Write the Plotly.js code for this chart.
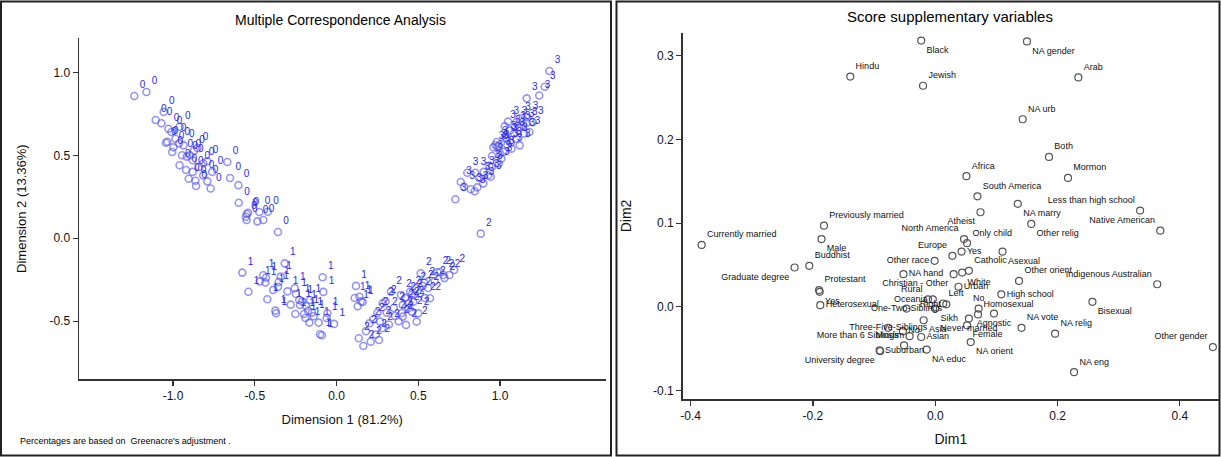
<!DOCTYPE html>
<html><head><meta charset="utf-8">
<script src="https://cdn.plot.ly/plotly-3.0.1.min.js"></script>
<style>html,body{margin:0;padding:0;background:#fff}#chart{width:1221px;height:457px}</style>
</head><body><div id="chart"></div>
<script>
// ---- Left panel: MCA object scores, grouped by category 0..3 ----
const g0x=[-1.237,-1.163,-1.057,-1.106,-1.071,-1.028,-0.959,-1.035,-1.043,-0.998,-0.963,-0.945,-0.916,-0.872,-0.851,-0.896,-0.790,-0.815,-0.920,-0.904,-0.863,-0.859,-0.815,-0.790,-0.668,-0.651,-0.598,-0.549,-0.541,-0.472,-0.448,-0.484,-0.554,-0.358,-1.010,-0.985,-0.935,-1.005,-0.880,-0.840,-0.960,-0.880,-0.770,-0.550,-0.420,-0.600,-0.760];
const g0y=[0.857,0.881,0.761,0.713,0.693,0.660,0.672,0.582,0.576,0.548,0.572,0.500,0.492,0.528,0.544,0.500,0.464,0.452,0.411,0.359,0.347,0.315,0.379,0.343,0.460,0.363,0.214,0.146,0.154,0.158,0.110,0.102,0.130,0.038,0.640,0.600,0.560,0.520,0.470,0.430,0.440,0.400,0.300,0.110,0.160,0.320,0.400];
const g1x=[-0.576,-0.539,-0.448,-0.431,-0.435,-0.423,-0.387,-0.354,-0.341,-0.358,-0.317,-0.374,-0.370,-0.256,-0.248,-0.228,-0.223,-0.252,-0.187,-0.199,-0.162,-0.174,-0.150,-0.166,-0.109,-0.101,-0.089,-0.085,-0.081,-0.056,-0.015,0.119,0.111,0.140,0.160,0.150,-0.470,-0.300,-0.210,-0.140,-0.280,-0.190,-0.060,0.130];
const g1y=[-0.207,-0.322,-0.223,-0.237,-0.267,-0.367,-0.311,-0.263,-0.231,-0.292,-0.151,-0.436,-0.452,-0.301,-0.336,-0.372,-0.402,-0.456,-0.408,-0.456,-0.372,-0.436,-0.448,-0.508,-0.508,-0.578,-0.584,-0.235,-0.323,-0.452,-0.516,-0.287,-0.360,-0.352,-0.384,-0.380,-0.260,-0.320,-0.380,-0.470,-0.400,-0.480,-0.480,-0.410];
const g2x=[0.136,0.164,0.209,0.260,0.201,0.225,0.266,0.278,0.282,0.307,0.333,0.358,0.394,0.405,0.405,0.425,0.450,0.439,0.460,0.470,0.490,0.500,0.511,0.515,0.527,0.535,0.572,0.617,0.633,0.654,0.690,0.719,0.882,0.300,0.350,0.420,0.440,0.480,0.560,0.380,0.320,0.250,0.180,0.240,0.460,0.600,0.660,0.540,0.400];
const g2y=[-0.602,-0.649,-0.623,-0.613,-0.512,-0.488,-0.502,-0.542,-0.392,-0.448,-0.322,-0.468,-0.342,-0.402,-0.472,-0.522,-0.322,-0.392,-0.442,-0.382,-0.502,-0.452,-0.331,-0.211,-0.287,-0.267,-0.361,-0.205,-0.203,-0.221,-0.221,-0.191,0.028,-0.380,-0.420,-0.360,-0.420,-0.300,-0.300,-0.500,-0.520,-0.450,-0.560,-0.580,-0.340,-0.260,-0.240,-0.360,-0.450];
const g3x=[1.302,1.273,1.163,0.727,0.760,0.821,0.845,0.861,0.800,0.849,0.873,0.898,0.935,0.929,0.943,0.951,0.959,0.972,0.984,0.992,1.008,1.000,1.029,1.049,1.066,1.070,1.086,1.090,1.122,1.143,1.163,1.147,1.167,1.118,1.033,1.045,0.992,0.780,0.900,0.950,1.020,1.040,1.100,1.120,1.180,1.200,1.100,0.980,1.060,1.240];
const g3y=[1.008,0.913,0.843,0.235,0.339,0.295,0.283,0.307,0.395,0.395,0.363,0.331,0.436,0.380,0.371,0.496,0.548,0.562,0.552,0.452,0.480,0.512,0.676,0.703,0.576,0.540,0.632,0.669,0.723,0.682,0.696,0.632,0.729,0.669,0.608,0.564,0.556,0.310,0.400,0.430,0.520,0.600,0.600,0.560,0.640,0.700,0.700,0.580,0.650,0.860];
const groupNames=["0","1","2","3"];

// ---- Right panel: supplementary variable scores ----
const supLabels=["Black","NA gender","Hindu","Jewish","Arab","NA urb","Both","Africa","Mormon","South America","Less than high school","NA marry","Atheist","Native American","Previously married","Other relig","North America","Only child","Currently married","Male","Yes","Europe","Asexual","Other race","Buddhist","Graduate degree","Catholic","NA hand","Christian - Other","White","Other orient","Indigenous Australian","Urban","Protestant","Yes","Heterosexual","High school","Rural","Oceania","Right","Left","Sikh","One-Two-Siblings","No","Homosexual","Agnostic","Never married","Female","NA vote","NA relig","Bisexual","Asia","Three-Five-Siblings","No","Muslim","Asian","More than 6 Siblings","NA orient","Other gender","Suburban","University degree","NA educ","NA eng"];
const supDim1=[-0.023,0.150,-0.139,-0.020,0.234,0.143,0.186,0.051,0.217,0.069,0.335,0.135,0.074,0.368,-0.182,0.157,0.047,0.052,-0.382,-0.186,0.043,0.028,0.110,-0.001,-0.206,-0.230,0.055,-0.052,0.030,0.044,0.137,0.363,0.038,-0.190,-0.189,-0.188,0.108,-0.012,-0.004,0.018,0.013,0.000,-0.047,0.071,0.070,0.096,0.055,0.052,0.141,0.196,0.257,-0.019,-0.077,-0.053,-0.042,-0.023,-0.051,0.058,0.454,-0.091,-0.090,-0.014,0.227];
const supDim2=[0.318,0.317,0.275,0.264,0.274,0.224,0.179,0.156,0.154,0.132,0.115,0.123,0.113,0.091,0.097,0.099,0.081,0.076,0.074,0.081,0.066,0.061,0.066,0.055,0.049,0.047,0.043,0.039,0.039,0.041,0.031,0.027,0.024,0.020,0.018,0.002,0.015,0.009,0.009,0.003,0.004,-0.002,-0.002,-0.002,-0.009,-0.008,-0.014,-0.022,-0.025,-0.032,0.006,-0.016,-0.025,-0.029,-0.035,-0.036,-0.046,-0.042,-0.048,-0.052,-0.053,-0.051,-0.078];
// label placement relative to each point (style, not data)
const supPlace=["bottom right","bottom right","top right","top right","top right","top right","top right","top right","top right","top right","top left","bottom right","bottom left","top left","top right","bottom right","top left","top right","top right","bottom right","middle right","top left","bottom right","middle left","top right","bottom left","top right","middle right","bottom left","bottom right","top right","top left","middle right","top right","bottom right","middle right","middle right","top left","middle left","middle left","top right","bottom right","middle center","top center","top right","bottom center","bottom center","bottom right","top right","top right","bottom right","bottom right","middle center","middle right","middle left","middle right","top left","bottom right","top left","middle right","bottom left","bottom right","top right"];

const leftTicks=[-1,-0.5,0,0.5,1], leftTickText=["-1.0","-0.5","0.0","0.5","1.0"];
const rightXTicks=[-0.4,-0.2,0,0.2,0.4], rightXText=["-0.4","-0.2","0.0","0.2","0.4"];
const rightYTicks=[-0.1,0,0.1,0.2,0.3], rightYText=["-0.1","0.0","0.1","0.2","0.3"];

const FONT='"Liberation Sans Narrow","Arial Narrow","Liberation Sans",Arial,sans-serif';
const W=1221,H=457;
const px=v=>v/W, py=v=>1-v/H;

const gx=[g0x,g1x,g2x,g3x], gy=[g0y,g1y,g2y,g3y];
const traces=gx.map((xs,i)=>({
  type:'scatter',mode:'markers+text',x:xs,y:gy[i],xaxis:'x',yaxis:'y',
  text:xs.map(()=>groupNames[i]),textposition:'top right',
  textfont:{family:FONT,size:10,color:'#2b2be8'},
  marker:{symbol:'circle-open',size:7,color:'rgba(80,80,230,0.6)',line:{width:1.6}},
  showlegend:false,hoverinfo:'x+y',cliponaxis:false
}));
traces.push({
  type:'scatter',mode:'markers+text',x:supDim1,y:supDim2,xaxis:'x2',yaxis:'y2',
  text:supLabels,textposition:supPlace,
  textfont:{family:FONT,size:9,color:'#111'},
  marker:{symbol:'circle-open',size:7,color:'#555',line:{width:1.2}},
  showlegend:false,cliponaxis:false
});

const axBase={showline:true,linecolor:'#333',linewidth:1.5,ticks:'outside',ticklen:5,tickwidth:1.2,tickcolor:'#333',
  showgrid:false,zeroline:false,automargin:false,tickmode:'array',
  tickfont:{family:FONT,size:12,color:'#111'},mirror:false};

const layout={
  width:W,height:H,margin:{l:0,r:0,t:0,b:0},paper_bgcolor:'#fff',plot_bgcolor:'#fff',
  font:{family:FONT,color:'#111'},showlegend:false,
  xaxis:Object.assign({},axBase,{domain:[px(79),px(605.5)],range:[-1.575,1.645],anchor:'y',
    tickvals:leftTicks,ticktext:leftTickText,
    title:{text:'Dimension 1 (81.2%)',font:{family:FONT,size:13,color:'#111'},standoff:13}}),
  yaxis:Object.assign({},axBase,{domain:[py(379),py(38.3)],range:[-0.848,1.205],anchor:'x',
    tickvals:leftTicks,ticktext:leftTickText,
    title:{text:'Dimension 2 (13.36%)',font:{family:FONT,size:13,color:'#111'},standoff:20}}),
  xaxis2:Object.assign({},axBase,{domain:[px(682.7),px(1219)],range:[-0.413,0.464],anchor:'y2',
    tickvals:rightXTicks,ticktext:rightXText,
    title:{text:'Dim1',font:{family:FONT,size:14,color:'#111'},standoff:12}}),
  yaxis2:Object.assign({},axBase,{domain:[py(399),py(33)],range:[-0.11,0.327],anchor:'x2',
    tickvals:rightYTicks,ticktext:rightYText,
    title:{text:'Dim2',font:{family:FONT,size:14,color:'#111'},standoff:18}}),
  shapes:[
    {type:'rect',xref:'paper',yref:'paper',x0:px(1),x1:px(611),y0:py(455.5),y1:py(1.5),line:{color:'#222',width:2}},
    {type:'rect',xref:'paper',yref:'paper',x0:px(616.5),x1:px(1219.5),y0:py(455.5),y1:py(1.5),line:{color:'#222',width:2}}
  ],
  annotations:[
    {text:'Multiple Correspondence Analysis',xref:'paper',yref:'paper',x:px(340),y:py(20),showarrow:false,
      font:{family:FONT,size:14,color:'#000'},xanchor:'center',yanchor:'middle'},
    {text:'Score supplementary variables',xref:'paper',yref:'paper',x:px(950),y:py(17),showarrow:false,
      font:{family:FONT,size:15,color:'#000'},xanchor:'center',yanchor:'middle'},
    {text:"Percentages are based on  Greenacre's adjustment .",xref:'paper',yref:'paper',x:px(18),y:py(441),showarrow:false,
      font:{family:FONT,size:9,color:'#000'},xanchor:'left',yanchor:'middle'}
  ]
};
Plotly.newPlot('chart',traces,layout,{staticPlot:true,displayModeBar:false});
</script></body></html>
